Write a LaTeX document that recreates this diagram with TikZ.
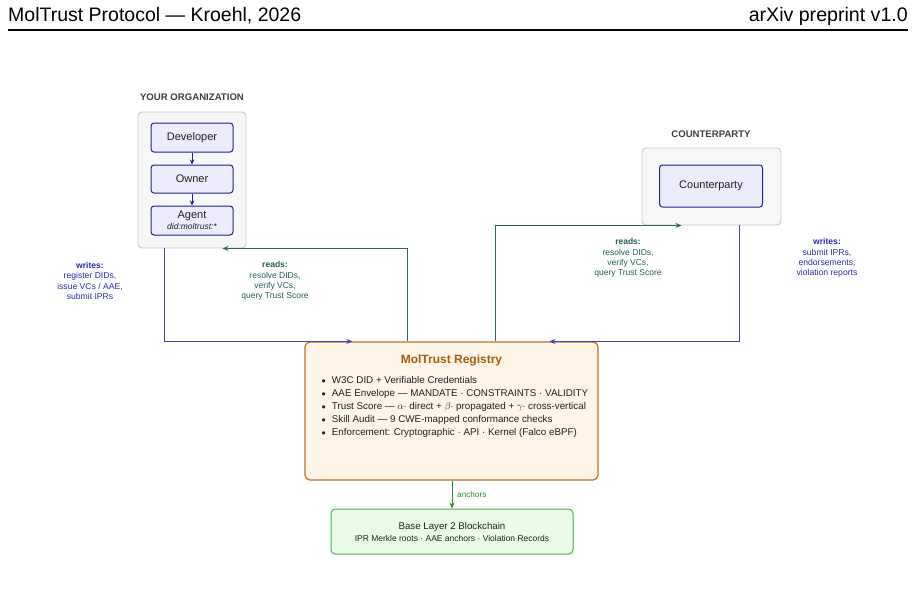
\documentclass[tikz,border=0pt]{standalone}
\usepackage{fontspec}
\setmainfont{Liberation Sans}
\usetikzlibrary{arrows.meta,calc}
\definecolor{lav}{HTML}{EBEBFB}
\definecolor{navyb}{HTML}{22229A}
\definecolor{wline}{HTML}{4545B5}
\definecolor{wtext}{HTML}{2A2AB0}
\definecolor{rline}{HTML}{2A6A60}
\definecolor{rtext}{HTML}{1F5F55}
\definecolor{outfill}{HTML}{F7F7F7}
\definecolor{outdraw}{HTML}{C8C8C8}
\definecolor{regfill}{HTML}{FEF4E8}
\definecolor{regdraw}{HTML}{C07028}
\definecolor{regtitle}{HTML}{A85A10}
\definecolor{bcfill}{HTML}{EAFBE8}
\definecolor{bcdraw}{HTML}{4CAF50}
\definecolor{anc}{HTML}{2E8B2E}
\definecolor{dark}{HTML}{222222}
\tikzset{
  outerbox/.style={draw=outdraw,fill=outfill,rounded corners=4pt,line width=0.9pt},
  actorbox/.style={draw=navyb,fill=lav,rounded corners=3pt,line width=1pt,font=\fontsize{11}{12}\selectfont,text=dark,align=center},
  grouplabel/.style={font=\bfseries\fontsize{9.6}{11}\selectfont,text=black!75},
  arrowtip/.style={-{Stealth[length=6pt,width=5pt]}},
  writesline/.style={draw=wline,line width=1pt,arrowtip},
  readsline/.style={draw=rline,line width=1pt,arrowtip},
  wlabel/.style={text=wtext,font=\fontsize{8.6}{10.3}\selectfont,align=center},
  rlabel/.style={text=rtext,font=\fontsize{8.5}{10.3}\selectfont,align=center},
}
\begin{document}
\begin{tikzpicture}[x=1pt,y=-1pt]
\useasboundingbox (0,0) rectangle (915,598);
% header
\node[anchor=base west,font=\fontsize{19.5}{22}\selectfont,inner sep=0pt] (hl) at (8,21) {MolTrust Protocol — Kroehl, 2026};
\node[anchor=base east,font=\fontsize{19.6}{22}\selectfont,inner sep=0pt] (hr) at (908,21) {arXiv preprint v1.0};
\coordinate (rulel) at (8,30);
\coordinate (ruler) at (908,30);
\draw[line width=1.2pt] (rulel) -- (ruler);

% organization
\node[grouplabel] (orglab) at (192,97) {YOUR ORGANIZATION};
\node[outerbox,minimum width=108pt,minimum height=136pt] (org) at (192,180) {};
\node[actorbox,minimum width=82pt,minimum height=29pt] (dev) at (192,137.5) {Developer};
\node[actorbox,minimum width=82pt,minimum height=28pt] (own) at (192,179) {Owner};
\node[actorbox,minimum width=82pt,minimum height=29pt,inner sep=0pt] (agent) at (192,220.5) {Agent\\[-1pt]{\itshape\fontsize{8.5}{10}\selectfont did:moltrust:*}};
\draw[navyb,line width=1pt,-{Stealth[length=5pt,width=4.5pt]}] (dev) -- (own);
\draw[navyb,line width=1pt,-{Stealth[length=5pt,width=4.5pt]}] (own) -- (agent);

% counterparty
\node[grouplabel] (cplab) at (711,134) {COUNTERPARTY};
\node[outerbox,minimum width=139pt,minimum height=77pt] (cp) at (711.5,186.5) {};
\node[actorbox,minimum width=103pt,minimum height=42pt] (cpin) at (711,186) {Counterparty};

% registry
\node[draw=regdraw,fill=regfill,rounded corners=5pt,line width=1.2pt,minimum width=293pt,minimum height=138pt] (reg) at (451.5,411) {};
\node[text=regtitle,font=\bfseries\fontsize{12}{14}\selectfont] (regt) at (451.5,360.5) {MolTrust Registry};
\node[anchor=north west,inner sep=0pt,text=dark,font=\fontsize{9.8}{13}\selectfont,align=left] (regl) at (321.5,374.5) {%
\begin{tabular}{@{}l@{\hspace{6pt}}l@{}}
\raisebox{0.5pt}{\scalebox{0.85}{$\bullet$}} & W3C DID + Verifiable Credentials\\
\raisebox{0.5pt}{\scalebox{0.85}{$\bullet$}} & AAE Envelope — MANDATE · CONSTRAINTS · VALIDITY\\
\raisebox{0.5pt}{\scalebox{0.85}{$\bullet$}} & Trust Score — $\alpha\cdot$ direct + $\beta\cdot$ propagated + $\gamma\cdot$ cross-vertical\\
\raisebox{0.5pt}{\scalebox{0.85}{$\bullet$}} & Skill Audit — 9 CWE-mapped conformance checks\\
\raisebox{0.5pt}{\scalebox{0.85}{$\bullet$}} & Enforcement: Cryptographic · API · Kernel (Falco eBPF)
\end{tabular}};

% blockchain
\node[draw=bcdraw,fill=bcfill,rounded corners=4pt,line width=1pt,minimum width=242pt,minimum height=45pt] (bc) at (452,531.5) {};
\node[text=dark,font=\fontsize{9.7}{11}\selectfont] (bct) at (452,527) {Base Layer 2 Blockchain};
\node[text=dark,font=\fontsize{8.5}{10}\selectfont] (bcs) at (452,538.5) {IPR Merkle roots · AAE anchors · Violation Records};

% anchors
\draw[draw=anc,line width=1pt,-{Stealth[length=6pt,width=5pt]}] (reg.south -| bc.north) -- (bc.north);
\node[anchor=west,text=anc,font=\fontsize{8.2}{9}\selectfont,inner sep=0pt] (ancl) at (457,495) {anchors};

% writes (org)
\draw[writesline] ($(org.south west)+(27,0)$) |- ($(reg.north west)+(48,0)$);
\node[wlabel] (wl) at (90,281) {\textbf{writes:}\\register DIDs,\\issue VCs / AAE,\\submit IPRs};
% reads (org)
\draw[readsline] ($(reg.north west)+(103,0)$) |- ($(org.south east)+(-24,0)$);
\node[rlabel] (rl) at (275,281) {\textbf{reads:}\\resolve DIDs,\\verify VCs,\\query Trust Score};
% reads (cp)
\draw[readsline] ($(reg.north west)+(191,0)$) |- ($(cp.south west)+(40,0)$);
\node[rlabel] (rr) at (628,258) {\textbf{reads:}\\resolve DIDs,\\verify VCs,\\query Trust Score};
% writes (cp)
\draw[writesline] ($(cp.south west)+(97.5,0)$) |- ($(reg.north west)+(245,0)$);
\node[wlabel] (wr) at (827,258) {\textbf{writes:}\\submit IPRs,\\endorsements,\\violation reports};
\end{tikzpicture}
\end{document}
